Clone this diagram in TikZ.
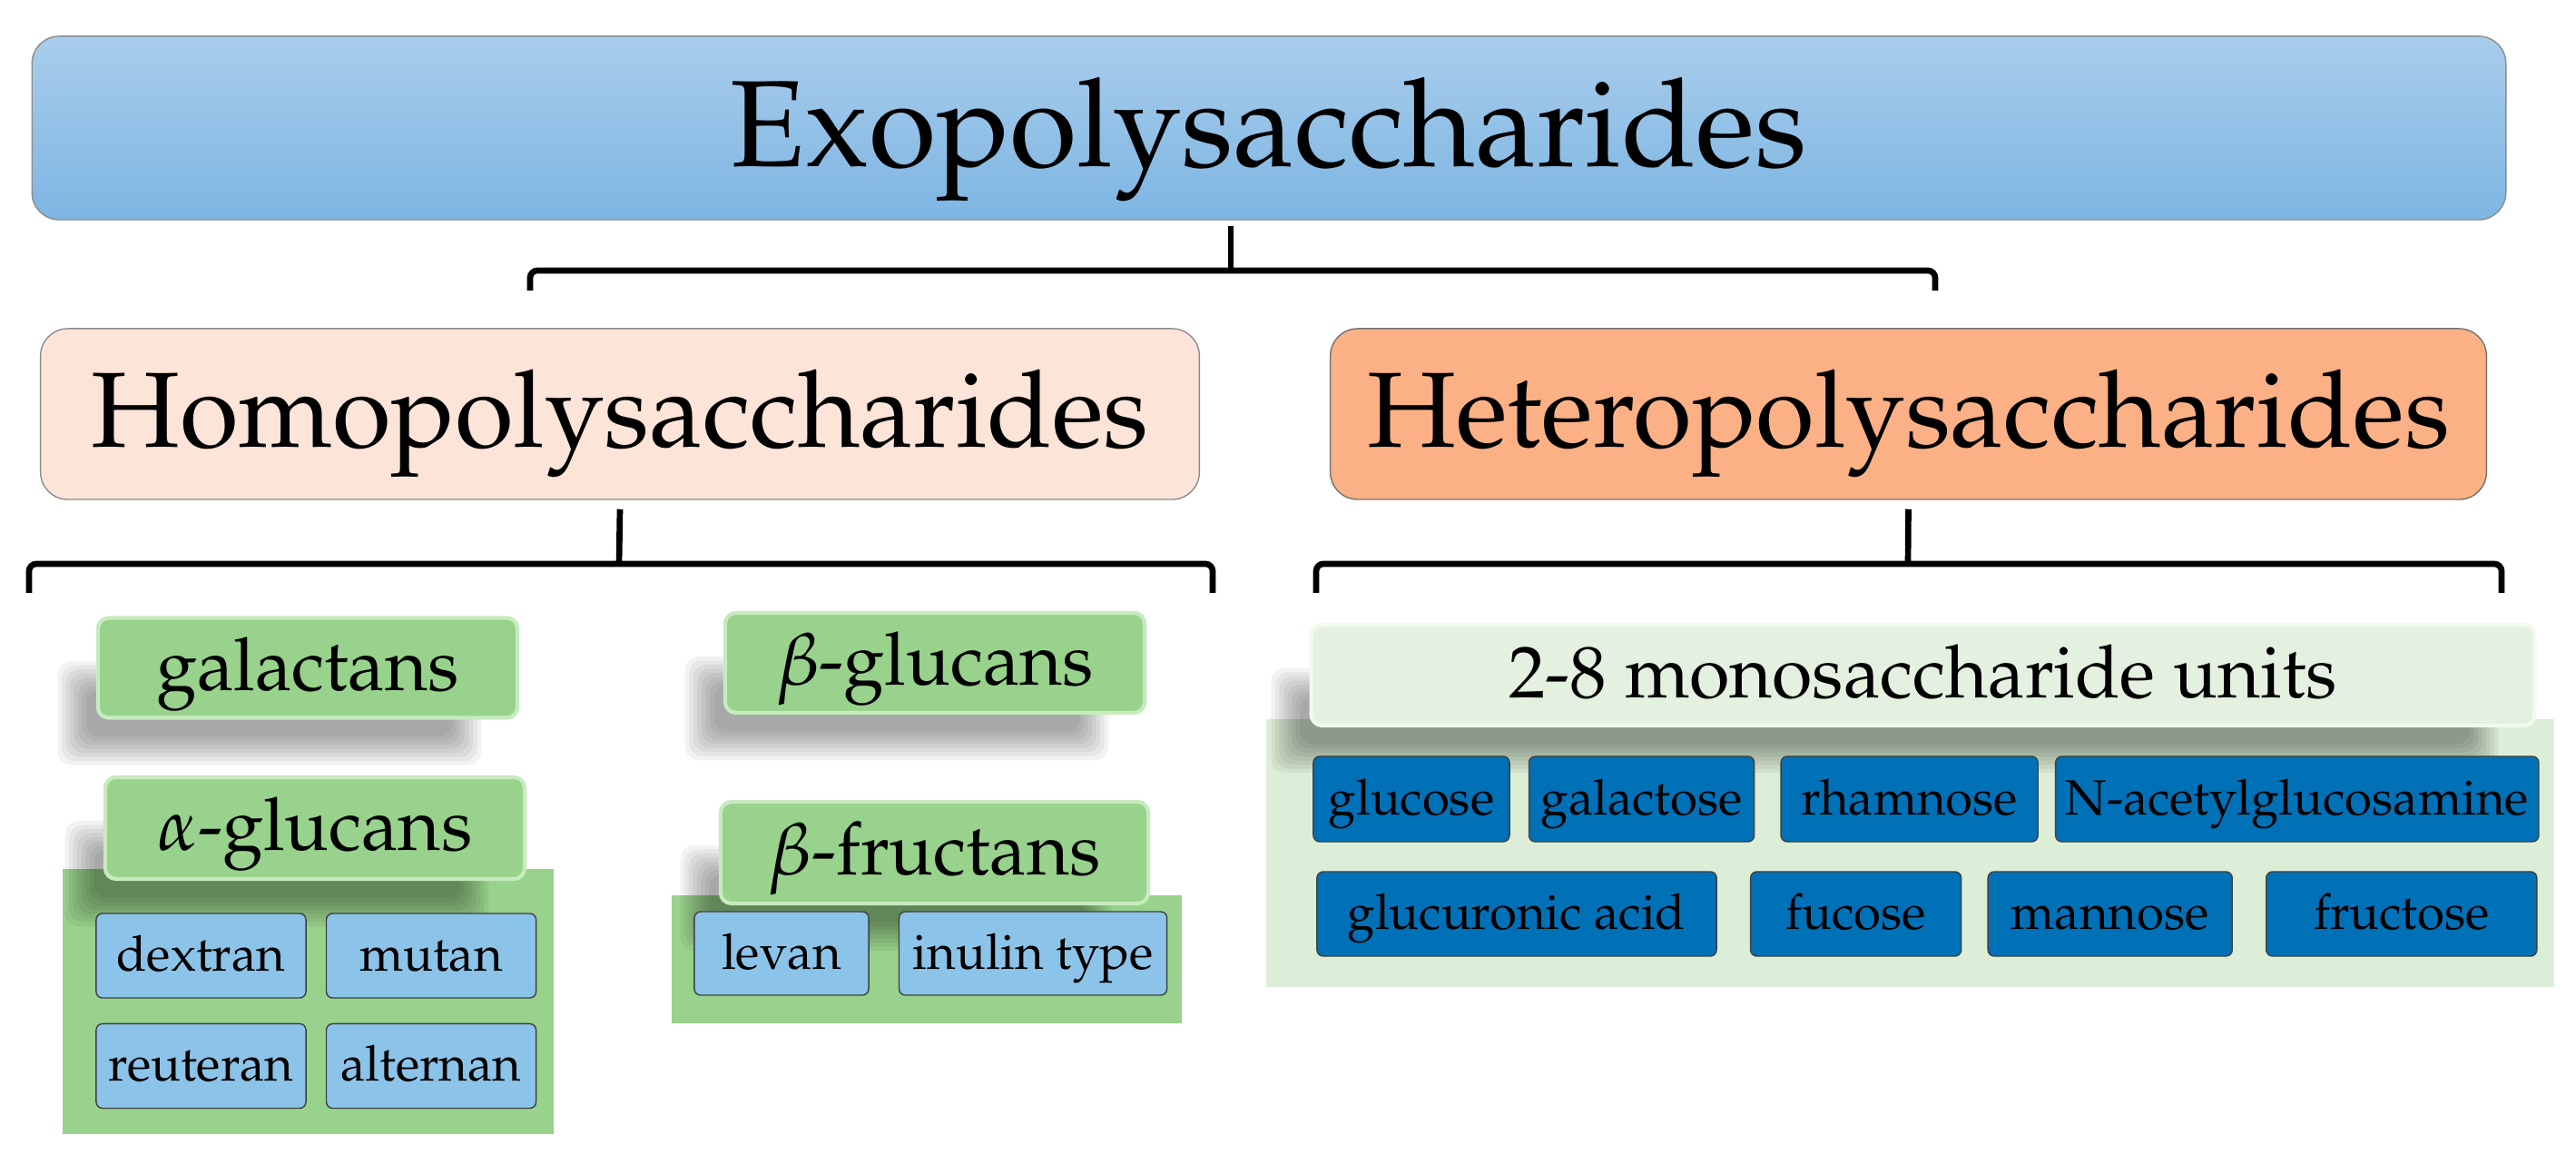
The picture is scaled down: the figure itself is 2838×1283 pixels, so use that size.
\documentclass[tikz,border=0pt]{standalone}
\usepackage[T1]{fontenc}
\usepackage{mathpazo}
\usetikzlibrary{positioning}

\definecolor{exoTop}{HTML}{A9CDEC}
\definecolor{exoBot}{HTML}{7DB5E2}
\definecolor{homoFill}{HTML}{FDE4D8}
\definecolor{heteroFill}{HTML}{FBB185}
\definecolor{grpGreen}{HTML}{98D28C}
\definecolor{grpEdge}{HTML}{C6EBBE}
\definecolor{lightBlue}{HTML}{8CC3E8}
\definecolor{darkBlue}{HTML}{0071B7}
\definecolor{paleGreen}{HTML}{DDEED8}
\definecolor{paleEdge}{HTML}{F2FAF0}

\pgfdeclarelayer{ground}
\pgfdeclarelayer{shade}
\pgfsetlayers{ground,shade,main}

\tikzset{
  bigbox/.style={draw=black!45, thin, rounded corners=0.3cm, inner sep=0pt,
    text height=0.85cm, text depth=0.13cm, font=\fontsize{33.5}{37}\selectfont},
  grpbox/.style={fill=grpGreen, draw=grpEdge, line width=1.2pt, rounded corners=0.12cm, inner sep=0pt,
    minimum height=1.1cm, text height=0.58cm, text depth=0.09cm, font=\fontsize{23}{26}\selectfont},
  unitbox/.style={draw=black!75, thin, rounded corners=0.07cm, inner sep=0pt,
    minimum height=0.93cm, text height=0.39cm, text depth=0.05cm, font=\fontsize{15.5}{18}\selectfont},
  brace/.style={line width=1.9pt, rounded corners=0.08cm}
}

% soft shadow below left of a label box
\newcommand{\boxshade}[1]{%
  \begin{pgfonlayer}{shade}
  \foreach \k in {0,...,7}
    \fill[black, opacity=0.05, rounded corners=0.15cm]
      ([xshift=-0.42cm+\k*0.045cm, yshift=-0.5cm+\k*0.045cm]#1.south west) rectangle
      ([xshift=-0.42cm-\k*0.045cm, yshift=-0.5cm-\k*0.045cm]#1.north east);
  \end{pgfonlayer}}

\begin{document}
\begin{tikzpicture}[x=0.01cm,y=-0.01cm]
\useasboundingbox (0,0) rectangle (2838,1283);

\node[bigbox, top color=exoTop, bottom color=exoBot, minimum width=27.24cm, minimum height=2.02cm,
  text height=0.98cm, text depth=0.14cm, font=\fontsize{38.5}{42}\selectfont] (exo) at (1398,141) {Exopolysaccharides};
\node[bigbox, fill=homoFill, minimum width=12.76cm, minimum height=1.88cm] (homo) at (683,456) {Homopolysaccharides};
\node[bigbox, fill=heteroFill, draw=black!55, minimum width=12.73cm, minimum height=1.88cm] (hetero) at (2102.5,456) {Heteropolysaccharides};

% brackets
\coordinate (exoJ) at (1356,298);
\coordinate (exoL) at (584,320);
\coordinate (exoR) at (2132,320);
\draw[brace] ([yshift=-0.06cm]exoJ |- exo.south) -- (exoJ);
\draw[brace] (exoL) |- (exoJ) -| (exoR);

\coordinate (homoJ) at (682,621);
\coordinate (homoL) at (32,653);
\coordinate (homoR) at (1336,653);
\draw[brace] ([yshift=-0.1cm]homo.south) -- (homoJ);
\draw[brace] (homoL) |- (homoJ) -| (homoR);

\coordinate (heteroJ) at (2102,621);
\coordinate (heteroL) at (1450,653);
\coordinate (heteroR) at (2756,653);
\draw[brace] ([yshift=-0.1cm]hetero.south) -- (heteroJ);
\draw[brace] (heteroL) |- (heteroJ) -| (heteroR);

% homopolysaccharides
\begin{pgfonlayer}{ground}
\fill[grpGreen] (69,957) rectangle (610,1249);
\fill[grpGreen] (740,986) rectangle (1302,1127);
\end{pgfonlayer}

\node[grpbox, minimum width=4.62cm] (galactans) at (339,735.5) {galactans};
\node[grpbox, minimum width=4.62cm] (bglucans) at (1030,730) {$\beta$-glucans};
\node[grpbox, minimum width=4.62cm, minimum height=1.12cm] (aglucans) at (347,912) {$\alpha$-glucans};
\node[grpbox, minimum width=4.71cm, minimum height=1.12cm] (bfructans) at (1029.5,939) {$\beta$-fructans};
\boxshade{galactans}
\boxshade{bglucans}
\boxshade{aglucans}
\boxshade{bfructans}

\node[unitbox, fill=lightBlue, minimum width=2.31cm] (dextran) at (221.5,1052.5) {dextran};
\node[unitbox, fill=lightBlue, minimum width=2.31cm, right=0.21cm of dextran] (mutan) {mutan};
\node[unitbox, fill=lightBlue, minimum width=2.31cm, below=0.27cm of dextran] (reuteran) {reuteran};
\node[unitbox, fill=lightBlue, minimum width=2.31cm, right=0.21cm of reuteran] (alternan) {alternan};

\node[unitbox, fill=lightBlue, minimum width=1.92cm, minimum height=0.92cm] (levan) at (861,1050) {levan};
\node[unitbox, fill=lightBlue, minimum width=2.95cm, minimum height=0.92cm, right=0.32cm of levan] (inulin) {inulin type};

% heteropolysaccharides
\begin{pgfonlayer}{ground}
\fill[paleGreen] (1395,792) rectangle (2814,1087);
\end{pgfonlayer}
\node[grpbox, fill=paleGreen!80!white, draw=paleEdge, minimum width=13.47cm, minimum height=1.11cm] (units) at (2118.5,743.5) {2-8 monosaccharide units};
\boxshade{units}

\node[unitbox, fill=darkBlue, minimum width=2.16cm, minimum height=0.94cm] (glucose) at (1555,880) {glucose};
\node[unitbox, fill=darkBlue, minimum width=2.48cm, minimum height=0.94cm, right=0.2cm of glucose] (galactose) {galactose};
\node[unitbox, fill=darkBlue, minimum width=2.83cm, minimum height=0.94cm, right=0.28cm of galactose] (rhamnose) {rhamnose};
\node[unitbox, fill=darkBlue, minimum width=5.32cm, minimum height=0.94cm, right=0.18cm of rhamnose] (nacetyl) {N-acetylglucosamine};

\node[unitbox, fill=darkBlue, minimum width=4.4cm] (glucuronic) at (1671,1006.5) {glucuronic acid};
\node[unitbox, fill=darkBlue, minimum width=2.32cm, right=0.36cm of glucuronic] (fucose) {fucose};
\node[unitbox, fill=darkBlue, minimum width=2.69cm, right=0.28cm of fucose] (mannose) {mannose};
\node[unitbox, fill=darkBlue, minimum width=2.98cm, right=0.36cm of mannose] (fructose) {fructose};

\end{tikzpicture}
\end{document}
